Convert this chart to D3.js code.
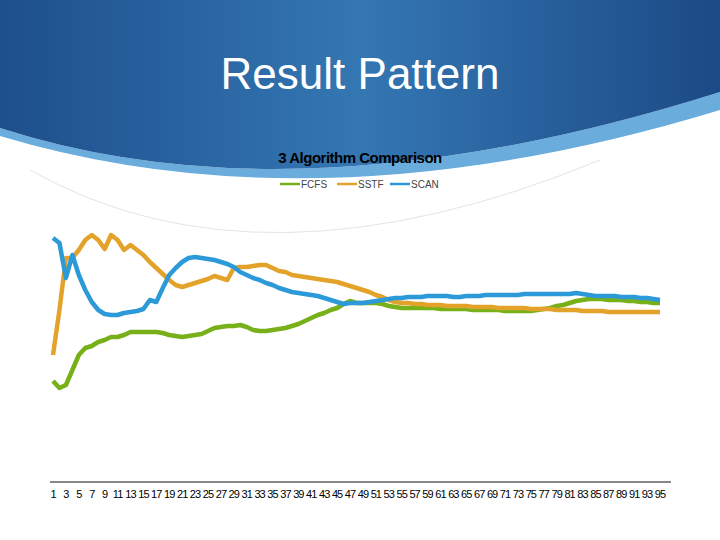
<!DOCTYPE html>
<html><head><meta charset="utf-8">
<script src="https://cdn.jsdelivr.net/npm/d3@7"></script>
<style>body{margin:0;background:#fff}svg{display:block}</style>
</head><body>
<script>
// values are read as screen heights (bigger = lower on the chart)
const categories = d3.range(1, 96);
const seriesNames = ['FCFS', 'SSTF', 'SCAN'];
const fcfs = [381,388,385,370,355,348,346,342,340,337,337,335,332,332,332,332,332,333,335,336,337,336,335,334,331,328,327,326,326,325,327,330,331,331,330,329,328,326,324,321,318,315,313,310,308,304,
  301,303,303,303,303,304,306,307,308,308,308,308,308,308,309,309,309,309,309,310,310,310,310,310,311,311,311,311,311,310,309,308,306,305,303,301,300,299,299,299,300,300,300,301,301,302,302,303,303];
const sstf = [355,310,258,258,250,240,235,240,249,235,240,250,245,250,255,262,268,274,280,285,287,285,283,281,279,276,278,280,268,267,267,266,265,265,268,271,272,275,276,277,278,279,280,281,282,284,
  286,288,290,292,295,297,300,302,303,303,304,304,305,305,305,306,306,306,306,307,307,307,307,308,308,308,308,308,309,309,309,309,310,310,310,310,311,311,311,311,312,312,312,312,312,312,312,312,312];
const scan = [238,243,278,255,275,290,302,310,314,315,315,313,312,311,309,300,302,288,275,268,262,258,257,258,259,260,262,264,267,272,275,278,280,283,285,288,290,292,293,294,295,296,298,300,302,304,
  303,303,303,302,301,300,299,298,298,297,297,297,296,296,296,296,297,297,296,296,296,295,295,295,295,295,295,294,294,294,294,294,294,294,294,293,294,295,296,296,296,296,297,297,297,298,298,299,300];
const colors = ['#77b019', '#e3a32a', '#2c9ad8'];
const tickLabels = categories.filter(d => d % 2 === 1);

const svg = d3.select('body').append('svg').attr('width', 720).attr('height', 540);

// header swoosh
const defs = svg.append('defs');
const grad = defs.append('linearGradient').attr('id', 'hd').attr('x1', 0).attr('x2', 1).attr('y1', 0).attr('y2', 0);
grad.append('stop').attr('offset', '0%').attr('stop-color', '#1d4f8c');
grad.append('stop').attr('offset', '50%').attr('stop-color', '#3477b3');
grad.append('stop').attr('offset', '100%').attr('stop-color', '#1b4a86');
svg.append('path').attr('d', 'M0,128 Q300,225 720,92 L720,110 Q320,232 0,136 Z').attr('fill', '#6aacdc');
svg.append('path').attr('d', 'M0,0 L720,0 L720,92 Q300,225 0,128 Z').attr('fill', 'url(#hd)');
svg.append('path').attr('d', 'M30,170 Q260,300 600,160').attr('fill', 'none').attr('stroke', '#e4e4e4').attr('stroke-width', 1);

svg.append('text').text('Result Pattern').attr('x', 360).attr('y', 89)
  .attr('text-anchor', 'middle').attr('fill', '#fff')
  .style('font-family', 'Liberation Sans, Arial').style('font-size', '44px');

svg.append('text').text('3 Algorithm Comparison').attr('x', 360).attr('y', 163)
  .attr('text-anchor', 'middle').attr('fill', '#000')
  .style('font-family', 'Liberation Sans, Arial').style('font-size', '15px').style('font-weight', 'bold')
  .style('letter-spacing', '-0.5px');

// legend
const legendX = [280, 337, 390];
seriesNames.forEach((name, i) => {
  const g = svg.append('g').attr('transform', `translate(${legendX[i]}, 184)`);
  g.append('line').attr('x1', 0).attr('x2', 20).attr('stroke', colors[i]).attr('stroke-width', 2.5);
  g.append('text').text(name).attr('x', 21).attr('y', 4)
    .style('font-family', 'Liberation Sans, Arial').style('font-size', '10px').attr('fill', '#444');
});

const xScale = d3.scalePoint().domain(categories).range([53, 660]);
const yScale = d3.scaleLinear().domain([482, 232]).range([482, 232]);

svg.append('line').attr('x1', 50).attr('x2', 671).attr('y1', 482).attr('y2', 482)
  .attr('stroke', '#888').attr('stroke-width', 2);
tickLabels.forEach(t => {
  svg.append('text').text(t).attr('x', xScale(t)).attr('y', 498).attr('text-anchor', 'middle')
    .style('font-family', 'Liberation Sans, Arial').style('font-size', '11px')
    .style('letter-spacing', '-0.9px').attr('fill', '#000');
});

const line = d3.line().x((d, i) => xScale(categories[i])).y(d => yScale(d));
[fcfs, sstf, scan].forEach((s, i) => {
  svg.append('path').datum(s).attr('d', line).attr('fill', 'none')
    .attr('stroke', colors[i]).attr('stroke-width', 4.5).attr('stroke-linejoin', 'round');
});
</script>
</body></html>
